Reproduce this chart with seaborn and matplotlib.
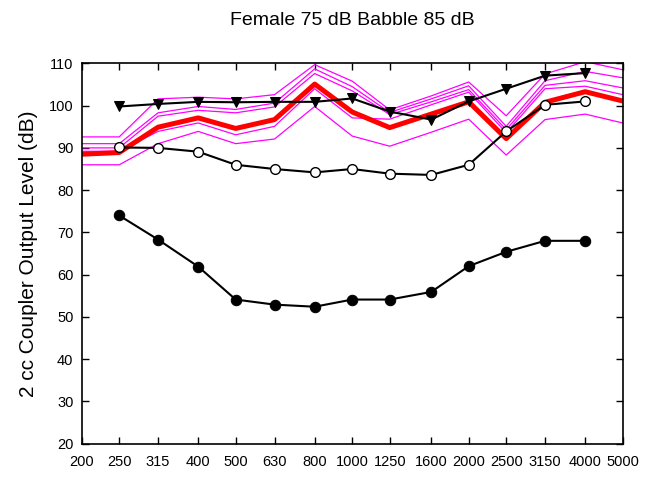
import numpy as np
import pandas as pd
import matplotlib
matplotlib.use("Agg")
import matplotlib.pyplot as plt
import seaborn as sns

# one-third octave centre frequencies (Hz)
freqs = [200, 250, 315, 400, 500, 630, 800, 1000, 1250, 1600, 2000, 2500, 3150, 4000, 5000]
tick_labels = [str(f) for f in freqs]

# individual runs (magenta)
run_1 = [92.6, 92.6, 101.6, 102.0, 101.6, 102.6, 109.7, 105.8, 99.0, 102.3, 105.6, 97.6, 107.5, 110.4, 108.5]
run_2 = [91.0, 91.0, 98.3, 99.8, 99.1, 100.6, 108.7, 104.5, 98.4, 101.6, 104.7, 95.1, 105.9, 108.1, 106.6]
run_3 = [90.0, 90.0, 97.5, 98.9, 98.3, 99.7, 107.6, 103.5, 97.9, 100.9, 103.8, 94.3, 104.8, 105.9, 104.2]
run_4 = [89.2, 89.2, 93.9, 95.9, 93.1, 95.1, 104.0, 97.1, 96.8, 100.2, 103.2, 93.6, 104.0, 104.6, 102.6]
run_5 = [86.0, 86.0, 91.0, 93.9, 91.0, 92.1, 99.8, 92.8, 90.4, 93.7, 96.8, 88.3, 96.7, 98.0, 95.9]
runs = [run_1, run_2, run_3, run_4, run_5]

# average (red)
average = [88.5, 88.9, 94.9, 97.1, 94.6, 96.7, 105.1, 98.5, 94.8, 98.0, 100.9, 92.2, 100.8, 103.3, 101.1]

# black curves, 250 - 4000 Hz
freqs_b = freqs[1:-1]
triangles = [99.8, 100.4, 100.9, 100.8, 100.9, 100.9, 101.7, 98.6, 96.7, 101.0, 104.0, 107.1, 107.7]
open_circles = [90.1, 90.0, 89.1, 86.0, 85.0, 84.2, 85.0, 83.9, 83.6, 86.0, 93.9, 100.2, 101.0]
filled_circles = [74.0, 68.3, 61.9, 54.1, 52.9, 52.4, 54.1, 54.1, 55.9, 62.0, 65.4, 68.0, 68.0]

sns.set_style("ticks")
plt.rcParams['font.family'] = ['Liberation Sans', 'DejaVu Sans']
plt.rcParams['text.color'] = 'black'
plt.rcParams['axes.labelcolor'] = 'black'

fig = plt.figure(figsize=(6.53, 4.93), dpi=100)
ax = fig.add_axes([0.1251, 0.1002, 0.8285, 0.7712])

for r in runs:
    sns.lineplot(x=freqs, y=r, ax=ax, color='#ff00ff', linewidth=0.9,
                 estimator=None, sort=False)

sns.lineplot(x=freqs, y=average, ax=ax, color='#ff0000', linewidth=3.6,
             estimator=None, sort=False)

sns.lineplot(x=freqs_b, y=triangles, ax=ax, color='black', linewidth=1.5,
             marker='v', markersize=7.5, markerfacecolor='black',
             markeredgecolor='black', estimator=None, sort=False)
sns.lineplot(x=freqs_b, y=open_circles, ax=ax, color='black', linewidth=1.5,
             marker='o', markersize=7, markerfacecolor='white',
             markeredgecolor='black', markeredgewidth=1.0, estimator=None, sort=False)
sns.lineplot(x=freqs_b, y=filled_circles, ax=ax, color='black', linewidth=1.5,
             marker='o', markersize=7.5, markerfacecolor='black',
             markeredgecolor='black', estimator=None, sort=False)

ax.set_xscale('log')
ax.set_xlim(200, 5000)
ax.set_ylim(20, 110)
ax.set_xticks(freqs)
ax.set_xticklabels(tick_labels)
ax.xaxis.set_minor_locator(matplotlib.ticker.NullLocator())
ax.set_yticks(np.arange(20, 111, 10))

ax.tick_params(axis='both', which='major', direction='in', length=5, width=1,
               top=True, right=True, labelsize=10.5, colors='black')
ax.tick_params(axis='x', pad=8)
ax.tick_params(axis='y', pad=6)
for s in ax.spines.values():
    s.set_visible(True)
    s.set_linewidth(1.2)
    s.set_color('black')

ax.set_ylabel('2 cc Coupler Output Level (dB)', fontsize=15, labelpad=8)
ax.set_xlabel('')
fig.text(0.539, 0.959, 'Female 75 dB Babble 85 dB', fontsize=14,
         ha='center', va='center')

fig.savefig('out.png', dpi=100)
